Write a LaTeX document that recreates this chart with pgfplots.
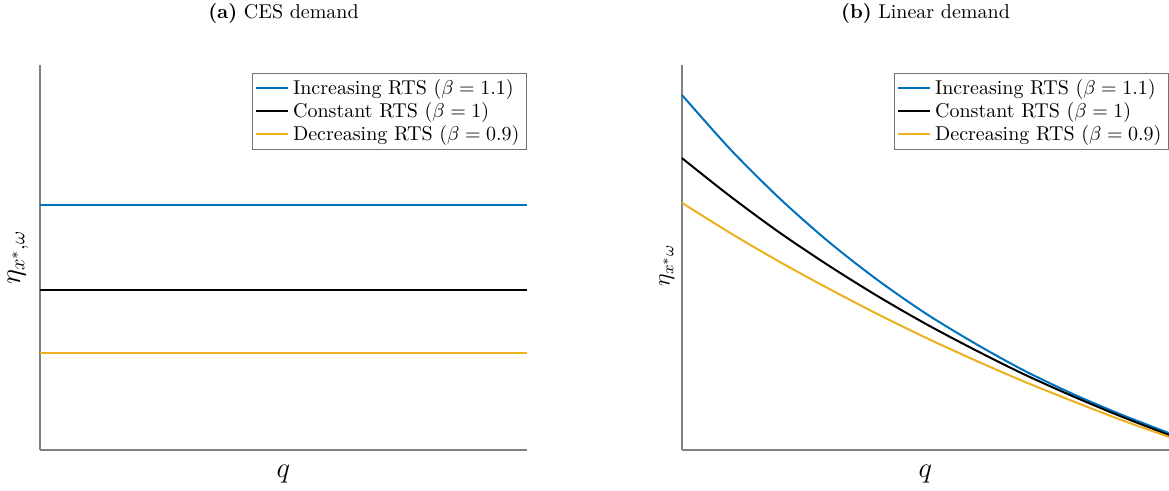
\documentclass[border=0pt]{standalone}
\usepackage{pgfplots}
\pgfplotsset{compat=1.18}

\definecolor{rtsblue}{HTML}{0072BD}
\definecolor{rtsgold}{HTML}{EDB120}

\tikzset{paneltitle/.style={anchor=center, font=\fontsize{10}{12}\selectfont}}

\pgfplotsset{
  elasticity/.style={
    scale only axis,
    width=243.5pt, height=192.5pt,
    xmin=0, xmax=1, ymin=0, ymax=1,
    axis x line*=bottom, axis y line*=left,
    axis line style={-, draw=black!50, line width=0.75pt},
    xtick=\empty, ytick=\empty,
    clip=false,
    xlabel={$q$},
    xlabel style={at={(axis description cs:0.5,-0.062)}, anchor=center, font=\Large},
    legend style={at={(axis description cs:1,1)}, anchor=north east, yshift=-4pt,
      draw=black!55, line width=0.5pt, font=\fontsize{10}{12}\selectfont,
      inner xsep=1.5pt, inner ysep=1pt, row sep=-1.5pt, cells={anchor=west}},
    legend image code/.code={\draw[#1, line width=1pt] (0pt,0pt) -- (16pt,0pt);},
    every axis plot/.append style={line width=1pt},
  },
}

\begin{document}
\begin{tikzpicture}
\path[use as bounding box] (-20pt,-20.5pt) rectangle (564.5pt,225pt);

% (a) CES demand: the elasticity does not depend on q
\begin{axis}[elasticity, at={(0pt,0pt)}, anchor=south west,
  ylabel={$\eta_{x^*,\omega}$},
  ylabel style={at={(axis description cs:-0.045,0.5)}, anchor=center, font=\Large}]
\addplot[rtsblue] coordinates {(0,0.636) (1,0.636)};
\addplot[black] coordinates {(0,0.416) (1,0.416)};
\addplot[rtsgold] coordinates {(0,0.252) (1,0.252)};
\legend{Increasing RTS ($\beta=1.1$), Constant RTS ($\beta=1$), Decreasing RTS ($\beta=0.9$)}
\node[paneltitle] at (axis description cs:0.5,1.135) {\textbf{(a)} CES demand};
\end{axis}

% (b) Linear demand: the elasticity falls with q
\begin{axis}[elasticity, at={(321pt,0pt)}, anchor=south west,
  ylabel={$\eta_{x^*\omega}$},
  ylabel style={at={(axis description cs:-0.031,0.48)}, anchor=center, font=\large}]
\addplot[rtsblue, smooth] coordinates {
  (0,0.922) (0.1,0.780) (0.2,0.654) (0.3,0.542) (0.4,0.443) (0.5,0.355)
  (0.6,0.278) (0.7,0.208) (0.8,0.147) (0.9,0.093) (1,0.044)};
\addplot[black, smooth] coordinates {
  (0,0.758) (0.1,0.658) (0.2,0.565) (0.3,0.480) (0.4,0.401) (0.5,0.328)
  (0.6,0.261) (0.7,0.198) (0.8,0.141) (0.9,0.088) (1,0.039)};
\addplot[rtsgold, smooth] coordinates {
  (0,0.642) (0.1,0.563) (0.2,0.489) (0.3,0.420) (0.4,0.354) (0.5,0.292)
  (0.6,0.234) (0.7,0.179) (0.8,0.128) (0.9,0.079) (1,0.034)};
\legend{Increasing RTS ($\beta=1.1$), Constant RTS ($\beta=1$), Decreasing RTS ($\beta=0.9$)}
\node[paneltitle] at (axis description cs:0.5,1.135) {\textbf{(b)} Linear demand};
\end{axis}
\end{tikzpicture}
\end{document}
